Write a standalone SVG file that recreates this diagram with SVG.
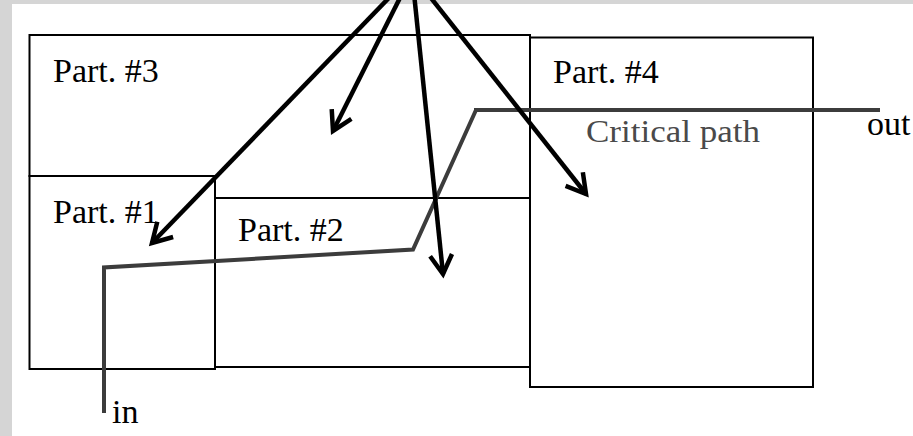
<svg xmlns="http://www.w3.org/2000/svg" width="913" height="436" viewBox="0 0 913 436">
  <style>
    .box { fill: none; stroke: #000; stroke-width: 2; }
    .lbl { font-family: "Liberation Serif", "Times New Roman", serif; font-size: 34px; fill: #000; }
    .crit { fill: none; stroke: #3c3c3c; stroke-width: 4; stroke-linejoin: miter; }
    .ptr { fill: none; stroke: #000; stroke-width: 4.5; marker-end: url(#vhead); }
  </style>
  <defs>
    <marker id="vhead" markerUnits="userSpaceOnUse" markerWidth="40" markerHeight="40" refX="0" refY="0" viewBox="-30 -20 40 40" orient="auto" overflow="visible">
      <path d="M-19,-11 L0,0 L-19,11" fill="none" stroke="#000" stroke-width="4.5" stroke-linejoin="miter"/>
    </marker>
  </defs>

  <!-- page background -->
  <rect x="0" y="0" width="913" height="436" fill="#d5d5d5"/>
  <rect x="12" y="4" width="901" height="432" fill="#fff"/>

  <!-- partitions -->
  <g id="part3">
    <path class="box" d="M29.5,35 H530 V198 H215 V176 H29.5 Z"/>
    <text class="lbl" x="53" y="82">Part. #3</text>
  </g>
  <g id="part1">
    <rect class="box" x="29.5" y="176" width="185.5" height="193"/>
    <text class="lbl" x="53" y="223">Part. #1</text>
  </g>
  <g id="part2">
    <rect class="box" x="215" y="198" width="315" height="169"/>
    <text class="lbl" x="238" y="241">Part. #2</text>
  </g>
  <g id="part4">
    <rect class="box" x="530" y="37.5" width="283" height="349.5" stroke-width="2.5"/>
    <text class="lbl" x="553" y="83">Part. #4</text>
  </g>

  <!-- terminals -->
  <g id="in">
    <text class="lbl" x="112" y="423" font-size="33">in</text>
  </g>
  <g id="out">
    <text class="lbl" x="867" y="135" font-size="32">out</text>
  </g>

  <g id="connectors">
    <!-- critical path through the partitions -->
    <path class="crit" d="M104,413 V267.5 L413,249.5 L476,110"/>
    <path class="crit" d="M474,110 H880" stroke-width="6"/>
    <text x="586" y="142" font-family="Liberation Serif, Times New Roman, serif" font-size="31" fill="#4a4a4a" textLength="174" lengthAdjust="spacingAndGlyphs">Critical path</text>

    <!-- fan-out arrows into each partition -->
    <path class="ptr" d="M412,-26 L152,243"/>
    <path class="ptr" d="M412,-26 L333,131"/>
    <path class="ptr" d="M412,-26 L443,274"/>
    <path class="ptr" d="M412,-26 L586,194"/>
  </g>
</svg>
